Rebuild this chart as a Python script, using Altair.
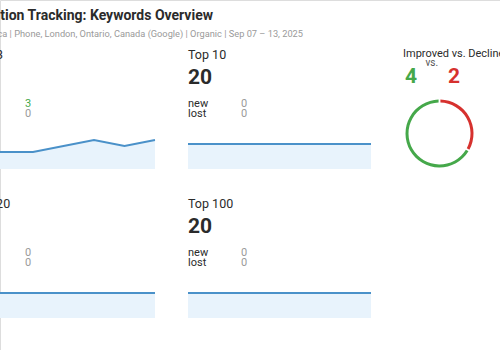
import altair as alt
import pandas as pd

# ---------------- data ----------------
days = ["Sep 07", "Sep 08", "Sep 09", "Sep 10", "Sep 11", "Sep 12", "Sep 13"]
top3_series = [1, 1, 1, 2, 3, 2, 3]
top10_series = [20, 20, 20, 20, 20, 20, 20]
top20_series = [20, 20, 20, 20, 20, 20, 20]
top100_series = [20, 20, 20, 20, 20, 20, 20]

panel_names = ["Top 3", "Top 10", "Top 20", "Top 100"]
panel_counts = [3, 20, 20, 20]
panel_new = [3, 0, 0, 0]
panel_lost = [0, 0, 0, 0]

status_names = ["Declined", "Improved"]
status_counts = [2, 4]

title_text = "Position Tracking: Keywords Overview"
subtitle_text = "example.ca | Phone, London, Ontario, Canada (Google) | Organic | Sep 07 – 13, 2025"
donut_title = "Improved vs. Declined"

# ---------------- style / layout ----------------
FONT = "Roboto"
DARK = "#2b2b2b"
GREY = "#9a9a9a"
GREEN = "#45a84a"
RED = "#d6312e"
LINE_BLUE = "#4a91c9"
AREA_BLUE = "#e8f3fc"

col_x = [-28, 188]
row_dy = [0, 149]
chart_w = 183

series_list = [top3_series, top10_series, top20_series, top100_series]
domains = [[-1.8, 3], [0, 20], [0, 20], [0, 20]]
tops = [140, 144, 144, 144]

layers = []


def txt(s, x, y, size, color=DARK, weight="normal", align="left"):
    return alt.Chart(pd.DataFrame({"t": [s]})).mark_text(
        align=align, baseline="alphabetic", fontSize=size, fontWeight=weight,
        color=color, font=FONT
    ).encode(text="t:N", x=alt.value(x), y=alt.value(y))


# title + subtitle
layers.append(txt(title_text, 213, 19.5, 14, DARK, "bold", "right"))
layers.append(txt(subtitle_text, 303, 36.7, 9.25, GREY, "normal", "right"))

# panels
for i in range(4):
    c = i % 2
    r = i // 2
    x0 = col_x[c]
    dy = row_dy[r]
    layers.append(txt(panel_names[i], x0, 59 + dy, 12.5, DARK))
    layers.append(txt(str(panel_counts[i]), x0, 84.3 + dy, 21, DARK, "bold"))
    layers.append(txt("new", x0, 106.7 + dy, 11, DARK))
    layers.append(txt("lost", x0, 116.7 + dy, 11, DARK))
    layers.append(txt(str(panel_new[i]), x0 + 53, 106.7 + dy, 11,
                      GREEN if panel_new[i] > 0 else GREY))
    layers.append(txt(str(panel_lost[i]), x0 + 53, 116.7 + dy, 11,
                      RED if panel_lost[i] > 0 else GREY))

    df = pd.DataFrame({"day": days, "v": series_list[i]})
    dom = domains[i]
    xe = alt.X("day:O", scale=alt.Scale(type="point", range=[x0, x0 + chart_w], padding=0), axis=None)
    ye = alt.Y("v:Q", scale=alt.Scale(domain=dom, range=[169 + dy, tops[i] + dy], nice=False, zero=False), axis=None)
    base = alt.Chart(df)
    area = base.mark_area(color=AREA_BLUE).encode(x=xe, y=ye, y2=alt.datum(dom[0]))
    line = base.mark_line(color=LINE_BLUE, strokeWidth=2).encode(x=xe, y=ye)
    layers.append(alt.layer(area, line))

# donut section
layers.append(txt(donut_title, 403, 56.7, 11, DARK))
layers.append(txt(str(status_counts[1]), 405, 83.3, 21, GREEN, "bold"))
layers.append(txt("vs.", 425.5, 65.7, 10, "#555555"))
layers.append(txt(str(status_counts[0]), 448, 83.3, 21, RED, "bold"))

donut_df = pd.DataFrame({"status": status_names, "n": status_counts, "ord": [0, 1]})
donut = alt.Chart(donut_df).mark_arc(innerRadius=31, outerRadius=34, padAngle=0.04).encode(
    theta=alt.Theta("n:Q", stack=True),
    color=alt.Color("status:N", scale=alt.Scale(domain=status_names, range=[RED, GREEN]), legend=None),
    order=alt.Order("ord:Q"),
    x=alt.value(439.5),
    y=alt.value(133.5),
)
layers.append(donut)

chart = alt.layer(*layers).resolve_scale(
    x="independent", y="independent", theta="independent", color="independent"
).properties(
    width=500, height=350, padding=0,
    autosize=alt.AutoSizeParams(type="none"),
).configure_view(strokeWidth=0).configure(font=FONT, background="white")

chart.save("out.html", embed_options={"renderer": "svg", "actions": False})
